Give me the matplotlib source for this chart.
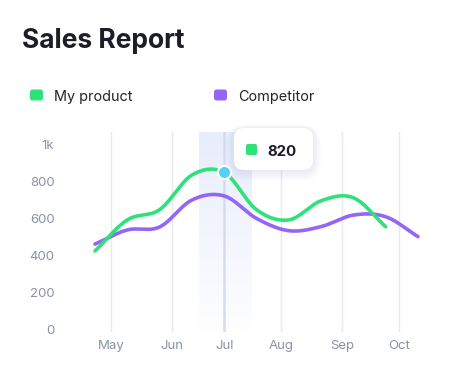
import numpy as np
import matplotlib
matplotlib.use("Agg")
import matplotlib.pyplot as plt
from matplotlib.patches import FancyBboxPatch
from matplotlib.transforms import IdentityTransform, ScaledTranslation

# ---------------- data ----------------
months = ["May", "Jun", "Jul", "Aug", "Sep", "Oct"]
month_pos = [0.49, 2.38, 4.0, 5.77, 7.64, 9.41]          # positions on the point index axis
product = [398, 565, 620, 806, 820, 620, 565, 668, 684, 528]
competitor = [435, 511, 527, 672, 694, 573, 507, 529, 591, 582, 475]
y_ticks = [0, 200, 400, 600, 800, 1000]
y_labels = ["0", "200", "400", "600", "800", "1k"]
highlight_idx = 4
tooltip_value = "820"
series_names = ["My product", "Competitor"]

GREEN = "#2EE27A"
PURPLE = "#9466F7"
CYAN = "#4FD3F6"
GRAY = "#8A92A6"
W, H = 459, 381


def smooth(ys, n=40):
    ys = np.asarray(ys, float)
    xs = np.arange(len(ys), dtype=float)
    m = np.empty_like(ys)
    m[1:-1] = (ys[2:] - ys[:-2]) / 2
    m[0] = ys[1] - ys[0]
    m[-1] = ys[-1] - ys[-2]
    X, Y = [], []
    for i in range(len(ys) - 1):
        t = np.linspace(0, 1, n, endpoint=False)
        h00 = 2 * t**3 - 3 * t**2 + 1
        h10 = t**3 - 2 * t**2 + t
        h01 = -2 * t**3 + 3 * t**2
        h11 = t**3 - t**2
        X.append(xs[i] + t)
        Y.append(h00 * ys[i] + h10 * m[i] + h01 * ys[i + 1] + h11 * m[i + 1])
    X.append([xs[-1]])
    Y.append([ys[-1]])
    return np.concatenate(X), np.concatenate(Y)


plt.rcParams["font.family"] = ["Inter", "DejaVu Sans"]
fig = plt.figure(figsize=(W / 100, H / 100), dpi=100)
fig.patch.set_facecolor("white")

# axes placed in pixel terms
left_px, right_px, top_px, bot_px = 85, 430, 132, 332
ax = fig.add_axes([left_px / W, 1 - bot_px / H, (right_px - left_px) / W, (bot_px - top_px) / H])
x0 = (left_px - 95) / 32.3
x1 = (right_px - 95) / 32.3
ppu = 0.186
ylo = (325 - bot_px) / ppu
yhi = (325 - top_px) / ppu
ax.set_xlim(x0, x1)
ax.set_ylim(ylo, yhi)
for s in ax.spines.values():
    s.set_visible(False)
ax.set_facecolor("none")

# highlight band (gradient)
band_l = (199 - 95) / 32.3
band_r = (252 - 95) / 32.3
grad = np.zeros((100, 1, 4))
grad[..., 0] = 0.90
grad[..., 1] = 0.925
grad[..., 2] = 0.99
grad[:, 0, 3] = np.linspace(0.9, 0.05, 100)
ax.imshow(grad, extent=[band_l, band_r, (325 - 330) / ppu, yhi], aspect="auto",
          origin="upper", zorder=0, interpolation="bilinear")
ax.set_xlim(x0, x1)
ax.set_ylim(ylo, yhi)

# vertical grid lines
for i, p in enumerate(month_pos):
    if i == 2:
        ax.axvline(p, color="#D6DBF0", lw=1.8, zorder=1)
    else:
        ax.axvline(p, color="#E7E9F0", lw=1.0, zorder=1)

# curves
xc, yc = smooth(competitor)
ax.plot(xc, yc, color=PURPLE, lw=2.6, solid_capstyle="round", zorder=3, clip_on=False)
xp, yp = smooth(product)
ax.plot(xp, yp, color=GREEN, lw=2.6, solid_capstyle="round", zorder=4, clip_on=False)

# marker
ax.plot([highlight_idx], [product[highlight_idx]], "o", ms=9.5, mfc=CYAN, mec="white",
        mew=1.6, zorder=6, clip_on=False)

# ticks
ax.set_xticks(month_pos)
ax.set_xticklabels(months)
ax.set_yticks(y_ticks)
ax.set_yticklabels(y_labels)
ax.tick_params(axis="both", length=0, colors=GRAY, labelsize=9.5)
ax.tick_params(axis="y", pad=22)
ax.tick_params(axis="x", pad=6)
off = ScaledTranslation(0, -5 / 100, fig.dpi_scale_trans)
for lab in ax.get_yticklabels():
    lab.set_transform(lab.get_transform() + off)

# title
fig.text(22 / W, 1 - 48 / H, "Sales Report", fontsize=19, fontweight="bold",
         color="#1C1D26", va="baseline", ha="left")

# legend
idt = IdentityTransform()
for (sx, tx, name, col) in [(30, 54, series_names[0], GREEN), (214, 238, series_names[1], PURPLE)]:
    fig.patches.append(FancyBboxPatch((sx + 1.5, H - 100.5 + 1.5), 10, 8,
                                      boxstyle="round,pad=1.5,rounding_size=2.5",
                                      fc=col, ec="none", transform=idt, figure=fig))
    fig.text(tx / W, 1 - 101 / H, name, fontsize=10.4, color="#22232D",
             va="baseline", ha="left")

# tooltip with soft shadow
bx, by, bw, bh = 234, 128, 79, 42
for k in range(10, 0, -1):
    fig.patches.append(FancyBboxPatch((bx - k * 0.8, H - by - bh - k * 1.1), bw + k * 1.6, bh + k * 1.4,
                                      boxstyle="round,pad=0,rounding_size=%f" % (10 + k),
                                      fc="#8890B0", ec="none", alpha=0.011,
                                      transform=idt, figure=fig, zorder=8))
fig.patches.append(FancyBboxPatch((bx, H - by - bh), bw, bh,
                                  boxstyle="round,pad=0,rounding_size=10",
                                  fc="white", ec="none", transform=idt, figure=fig, zorder=9))
fig.patches.append(FancyBboxPatch((247, H - 154), 9, 9,
                                  boxstyle="round,pad=1,rounding_size=2",
                                  fc=GREEN, ec="none", transform=idt, figure=fig, zorder=10))
fig.text(267 / W, 1 - 156 / H, tooltip_value, fontsize=10.8, fontweight="bold",
         color="#1E1E2A", va="baseline", ha="left", zorder=11)

fig.savefig("out.png", dpi=100)
